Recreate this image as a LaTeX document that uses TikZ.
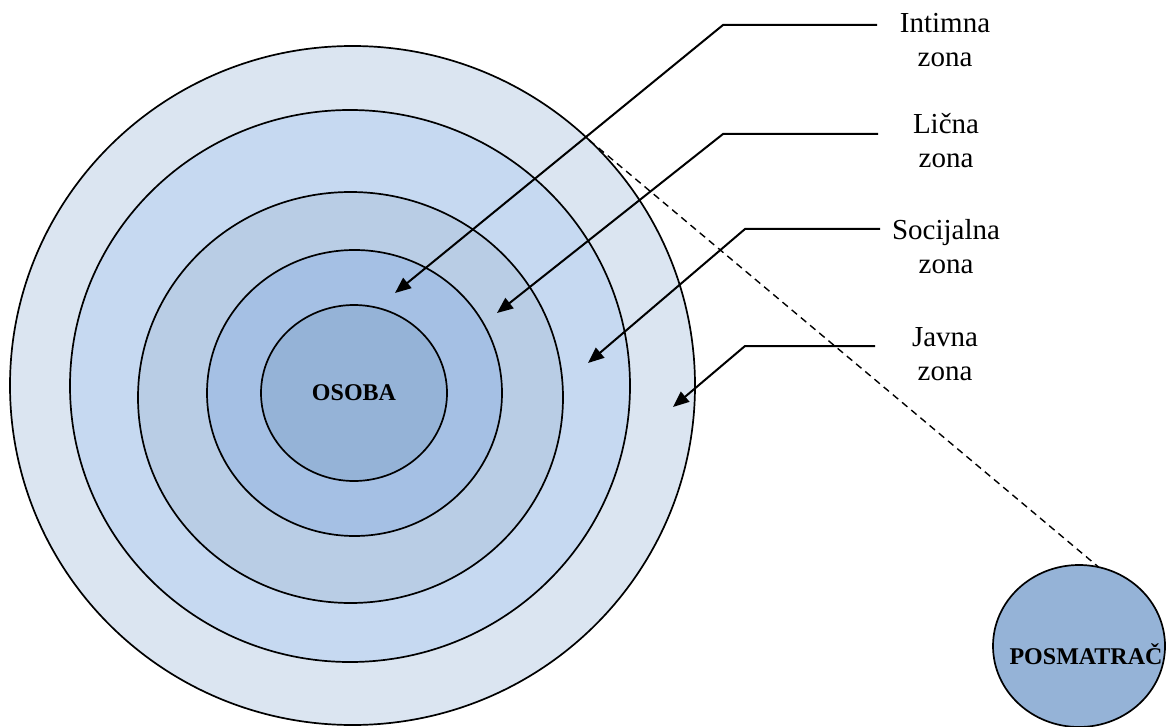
\documentclass[tikz,border=0pt]{standalone}
\usepackage{fontspec}
\setmainfont{Liberation Serif}
\usetikzlibrary{shapes.geometric,arrows.meta}

\definecolor{ringPublic}{HTML}{DBE5F1}
\definecolor{ringSocial}{HTML}{C6D9F1}
\definecolor{ringPersonal}{HTML}{B9CDE5}
\definecolor{ringIntimate}{HTML}{A5C0E4}
\definecolor{corePerson}{HTML}{95B3D7}

\begin{document}
\begin{tikzpicture}[x=1pt,y=-1pt,
  zone/.style={ellipse,draw=black,line width=1.7pt,inner sep=0pt,outer sep=0pt},
  leader/.style={line width=2pt,-{Triangle[length=16pt,width=13pt]}},
  zonelabel/.style={align=center,anchor=north,inner sep=0pt,
    font=\fontsize{29}{34}\selectfont},
  boldname/.style={font=\fontsize{24}{28}\selectfont\bfseries,inner sep=0pt},
  sightline/.style={line width=1.4pt,dash pattern=on 7pt off 5pt}]

\useasboundingbox (0,0) rectangle (1166,727);

% concentric distance zones, outermost first
\node[zone,fill=ringPublic,minimum width=685pt,minimum height=679pt] (public) at (352.5,385.5) {};
\node[zone,fill=ringSocial,minimum width=560pt,minimum height=552pt] (social) at (350,386) {};
\node[zone,fill=ringPersonal,minimum width=425pt,minimum height=411pt] (personal) at (350.5,397.5) {};
\node[zone,fill=ringIntimate,minimum width=295pt,minimum height=286pt] (intimate) at (354.5,393) {};
\node[zone,fill=corePerson,minimum width=186pt,minimum height=176pt,boldname] (person) at (354,393) {OSOBA};

% observer
\node[zone,fill=corePerson,minimum width=172pt,minimum height=162pt] (observer) at (1079,646) {};
\node[boldname] (observerText) at (1086,654) {POSMATRAČ};

% line of sight
\draw[sightline] (public.46.5) -- (observer.76.5);

% zone labels
\node[zonelabel] (lblIntimate) at (945,13) {Intimna\\zona};
\node[zonelabel] (lblPersonal) at (946,113) {Lična\\zona};
\node[zonelabel] (lblSocial) at (946,219) {Socijalna\\zona};
\node[zonelabel] (lblPublic) at (945,327) {Javna\\zona};

% leader lines
\coordinate (iEnd) at (877,25);  \coordinate (iBend) at (723,25);  \coordinate (iTip) at (395,293);
\coordinate (lEnd) at (878,134); \coordinate (lBend) at (723,134); \coordinate (lTip) at (497,313);
\coordinate (sEnd) at (880,229); \coordinate (sBend) at (745,229); \coordinate (sTip) at (588,363);
\coordinate (jEnd) at (875,346); \coordinate (jBend) at (745,346); \coordinate (jTip) at (673,407);

\draw[leader] (iEnd) -- (iBend) -- (iTip);
\draw[leader] (lEnd) -- (lBend) -- (lTip);
\draw[leader] (sEnd) -- (sBend) -- (sTip);
\draw[leader] (jEnd) -- (jBend) -- (jTip);
\end{tikzpicture}
\end{document}
